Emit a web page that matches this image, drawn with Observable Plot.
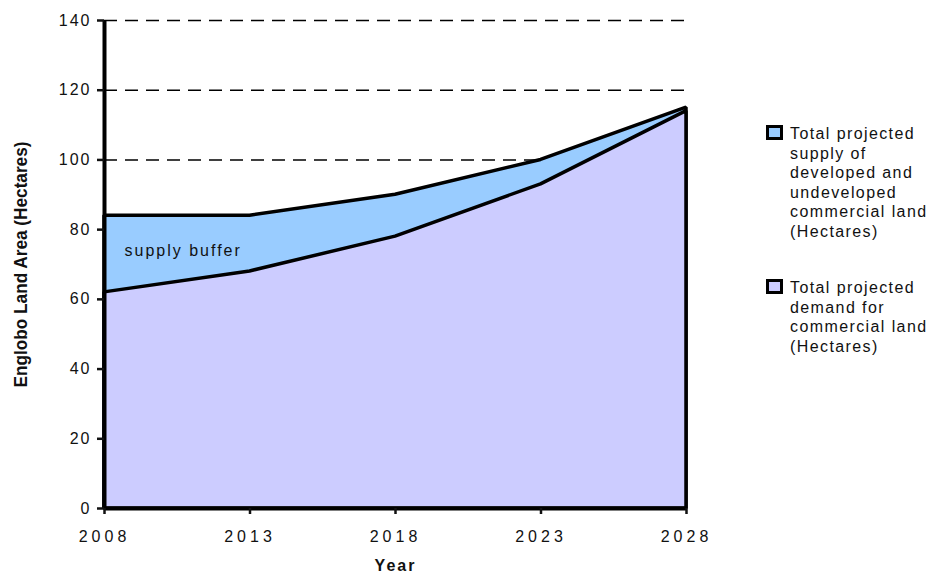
<!DOCTYPE html>
<html>
<head>
<meta charset="utf-8">
<script src="https://cdn.jsdelivr.net/npm/d3@7"></script>
<script src="https://cdn.jsdelivr.net/npm/@observablehq/plot@0.6"></script>
<style>
  html, body { margin: 0; padding: 0; background: #fff; }
  #wrap { position: relative; width: 938px; height: 574px; font-family: "Liberation Sans", Arial, sans-serif; }
  #legend { position: absolute; left: 766px; top: 124px; font-size: 16px; color: #111; line-height: 19.5px; letter-spacing: 1.4px; }
  .item { display: flex; align-items: flex-start; }
  .sw { width: 11px; height: 9px; border: 3px solid #000; margin-right: 7px; margin-top: 1px; flex: none; }
  svg [aria-label="y-axis tick label"] text { letter-spacing: 2px; }
  svg [aria-label="x-axis tick label"] text { letter-spacing: 4px; }
</style>
</head>
<body>
<div id="wrap"></div>
<script>
const years = [2008, 2013, 2018, 2023, 2028];
const supply = [84, 84, 90, 100, 115];
const demand = [62, 68, 78, 93, 114];
const yTicks = [0, 20, 40, 60, 80, 100, 120, 140];
const gridValues = [20, 40, 60, 80, 100, 120, 140];
const seriesNames = [
  "Total projected supply of developed and undeveloped commercial land (Hectares)",
  "Total projected demand for commercial land (Hectares)"
];
const legendLines = [
  ["Total projected", "supply of", "developed and", "undeveloped", "commercial land", "(Hectares)"],
  ["Total projected", "demand for", "commercial land", "(Hectares)"]
];
const colors = ["#99CCFF", "#CCCCFF"];
const annotations = [{label: "supply buffer", year: 2008, value: 74}];

const data = years.map((y, i) => ({year: y, supply: supply[i], demand: demand[i]}));

const chart = Plot.plot({
  width: 938,
  height: 574,
  marginTop: 20,
  marginRight: 252,
  marginBottom: 66,
  marginLeft: 104,
  style: {fontFamily: "'Liberation Sans', Arial, sans-serif", fontSize: "16px", color: "#111", background: "#fff"},
  x: {type: "linear", domain: [2008, 2028]},
  y: {domain: [0, 140]},
  marks: [
    Plot.ruleY(gridValues, {stroke: "#000", strokeWidth: 1.5, strokeDasharray: "13,8"}),
    Plot.areaY(data, {x: "year", y1: 0, y2: "supply", fill: colors[0], stroke: "#000", strokeWidth: 3.5, strokeLinejoin: "miter"}),
    Plot.areaY(data, {x: "year", y1: 0, y2: "demand", fill: colors[1], stroke: "#000", strokeWidth: 3.5, strokeLinejoin: "miter"}),
    Plot.ruleX([2008], {y1: 0, y2: 140, stroke: "#000", strokeWidth: 4}),
    Plot.ruleY([0], {stroke: "#000", strokeWidth: 4}),
    Plot.text(annotations, {x: "year", y: "value", text: "label", dx: 20, textAnchor: "start", fontSize: 16, fill: "#111"}),
    Plot.axisY({ticks: yTicks, tickSize: 7, tickPadding: 6, strokeWidth: 2.5, label: "Englobo Land Area (Hectares)", labelAnchor: "center", labelOffset: 90, labelArrow: "none"}),
    Plot.axisX({ticks: years, tickFormat: d => String(d), tickSize: 6, tickPadding: 16, strokeWidth: 2.5, label: "Year", labelAnchor: "center", labelOffset: 62, labelArrow: "none"})
  ]
});

document.getElementById("wrap").appendChild(chart);

// style axis titles
const yl = d3.select(chart).selectAll('[aria-label="y-axis label"]');
yl.style("font-weight", "bold").style("font-size", "18px");
yl.selectAll("text").attr("textLength", 246).attr("lengthAdjust", "spacingAndGlyphs");
d3.select(chart).selectAll('[aria-label="x-axis label"]')
  .style("font-weight", "bold").style("font-size", "16px").style("letter-spacing", "2px");
d3.select(chart).selectAll('[aria-label="text"] text').style("letter-spacing", "2px");

// legend
const legend = document.createElement("div");
legend.id = "legend";
legendLines.forEach((lines, i) => {
  const item = document.createElement("div");
  item.className = "item";
  item.style.marginBottom = i === 0 ? "37px" : "0";
  item.title = seriesNames[i];
  const sw = document.createElement("div");
  sw.className = "sw";
  sw.style.background = colors[i];
  const txt = document.createElement("div");
  txt.innerHTML = lines.join("<br>");
  item.appendChild(sw);
  item.appendChild(txt);
  legend.appendChild(item);
});
document.getElementById("wrap").appendChild(legend);
</script>
</body>
</html>
